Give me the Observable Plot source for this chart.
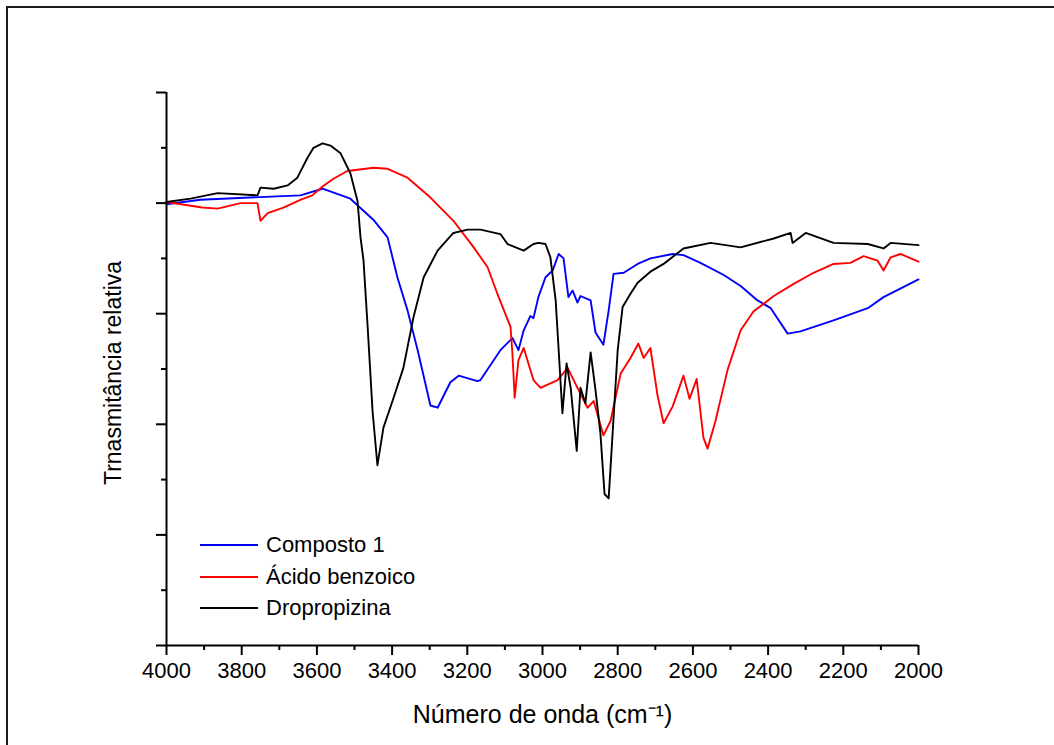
<!DOCTYPE html>
<html><head><meta charset="utf-8">
<script src="https://cdn.jsdelivr.net/npm/d3@7"></script>
<script src="https://cdn.jsdelivr.net/npm/@observablehq/plot@0.6"></script>
<style>
html,body{margin:0;padding:0;background:#fff;overflow:hidden;width:1054px;height:745px;}
#wrap{position:relative;width:1054px;height:745px;font-family:"Liberation Sans",Arial,sans-serif;}
#frame{position:absolute;left:6px;top:6px;width:1100px;height:800px;border-left:2px solid #1a1a1a;border-top:2px solid #1a1a1a;}
#chart{position:absolute;left:0;top:0;}
.lg{position:absolute;left:200px;height:32px;display:flex;align-items:center;font-size:22px;color:#000;}
.lg span.ln{display:inline-block;width:58px;height:0;border-top:2px solid;margin-right:8px;}
</style>
</head><body>
<div id="wrap"><div id="frame"></div><div id="chart"></div></div>
<script>
// Composto 1 (blue)
const wnComposto = [4000,3910,3777,3644,3585,3511,3450,3412,3386,3359,3332,3298,3279,3245,3223,3173,3165,3112,3080,3064,3050,3032,3024,3011,2992,2973,2957,2944,2931,2920,2907,2899,2872,2859,2838,2824,2811,2784,2747,2713,2654,2625,2580,2518,2473,2428,2393,2348,2314,2226,2135,2093,2000];
const tComposto  = [3.99,4.03,4.05,4.07,4.13,4.04,3.85,3.69,3.33,3.03,2.67,2.17,2.15,2.38,2.44,2.39,2.40,2.67,2.78,2.67,2.85,2.98,2.96,3.15,3.33,3.39,3.54,3.50,3.15,3.21,3.10,3.16,3.12,2.83,2.72,3.03,3.36,3.37,3.45,3.50,3.54,3.53,3.46,3.35,3.25,3.12,3.05,2.82,2.84,2.94,3.05,3.15,3.31];
// Ácido benzoico (red)
const wnAcido = [4000,3905,3864,3803,3758,3750,3731,3689,3644,3612,3585,3556,3519,3449,3412,3359,3298,3237,3183,3146,3120,3085,3080,3074,3064,3050,3024,3005,2979,2960,2933,2907,2880,2864,2838,2819,2792,2766,2745,2731,2713,2694,2678,2654,2625,2609,2590,2572,2561,2540,2508,2473,2439,2385,2332,2279,2226,2181,2146,2109,2093,2074,2048,2000];
const tAcido  = [4.01,3.96,3.95,4.00,4.00,3.84,3.91,3.96,4.03,4.07,4.15,4.22,4.29,4.32,4.31,4.23,4.05,3.84,3.60,3.42,3.18,2.88,2.64,2.24,2.58,2.69,2.40,2.33,2.37,2.40,2.51,2.33,2.15,2.21,1.90,2.03,2.46,2.60,2.73,2.60,2.69,2.26,2.01,2.16,2.44,2.23,2.41,1.88,1.78,2.03,2.49,2.85,3.02,3.16,3.27,3.37,3.45,3.46,3.52,3.48,3.39,3.51,3.54,3.47];
// Dropropizina (black)
const wnDrop = [4000,3936,3864,3758,3750,3715,3678,3652,3625,3609,3585,3564,3537,3511,3492,3484,3476,3465,3452,3439,3423,3396,3370,3343,3316,3279,3237,3199,3165,3112,3093,3050,3024,3011,2992,2979,2965,2957,2947,2936,2925,2909,2899,2886,2872,2859,2846,2835,2824,2811,2800,2787,2766,2747,2713,2678,2625,2553,2473,2385,2340,2335,2300,2226,2135,2093,2074,2000];
const tDrop  = [4.01,4.04,4.09,4.07,4.14,4.13,4.16,4.23,4.41,4.50,4.54,4.52,4.45,4.27,4.02,3.69,3.48,2.88,2.12,1.63,1.97,2.24,2.51,2.97,3.33,3.57,3.73,3.76,3.76,3.72,3.63,3.57,3.63,3.64,3.63,3.51,3.12,2.67,2.10,2.55,2.33,1.76,2.33,2.19,2.65,2.31,1.92,1.37,1.33,2.06,2.67,3.06,3.18,3.28,3.38,3.45,3.59,3.64,3.60,3.68,3.73,3.64,3.73,3.64,3.63,3.59,3.64,3.62];

const seriesNames = ["Composto 1", "Ácido benzoico", "Dropropizina"];
const seriesColors = ["#0000ff", "#ff0000", "#000000"];
const xMajorTicks = d3.range(4000, 1999, -200);
const xMinorTicks = d3.range(3900, 2000, -200);
const yMajorTicks = [0,1,2,3,4,5];
const yMinorTicks = [0.5,1.5,2.5,3.5,4.5];
const xLabel = "Número de onda (cm⁻¹)";
const yLabel = "Trnasmitância relativa";

const build = (wn, t, name) => wn.map((w, i) => ({w, t: t[i], name}));
const data = [
  ...build(wnComposto, tComposto, seriesNames[0]),
  ...build(wnAcido, tAcido, seriesNames[1]),
  ...build(wnDrop, tDrop, seriesNames[2])
];

const chart = Plot.plot({
  width: 1054, height: 745,
  marginLeft: 166, marginRight: 136, marginTop: 92, marginBottom: 100,
  style: {background: "transparent", fontFamily: "'Liberation Sans', Arial, sans-serif", fontSize: "22px", color: "#000"},
  x: {domain: [4000, 2000]},
  y: {domain: [0, 5]},
  color: {domain: seriesNames, range: seriesColors},
  marks: [
    Plot.line(data, {x: "w", y: "t", z: "name", stroke: "name", strokeWidth: 1.9}),
    Plot.ruleY([0], {stroke: "#000", strokeWidth: 2}),
    Plot.ruleX([4000], {stroke: "#000", strokeWidth: 2}),
    Plot.axisX({ticks: xMajorTicks, tickSize: 10, tickPadding: 7, tickFormat: d => String(d), strokeWidth: 2, fontSize: 22, label: null}),
    Plot.axisX({ticks: xMinorTicks, tickSize: 5, text: null, strokeWidth: 2, label: null}),
    Plot.axisY({ticks: yMajorTicks, tickSize: 10, text: null, strokeWidth: 2, label: null}),
    Plot.axisY({ticks: yMinorTicks, tickSize: 5, text: null, strokeWidth: 2, label: null}),
    Plot.text([xLabel], {text: d => d, frameAnchor: "bottom", dy: 77, fontSize: 25}),
    Plot.text([yLabel], {text: d => d, frameAnchor: "left", textAnchor: "middle", dx: -53, dy: 4, rotate: -90, fontSize: 23})
  ]
});
document.getElementById("chart").appendChild(chart);

const wrap = document.getElementById("wrap");
const legendY = [529, 561, 592];
seriesNames.forEach((n, i) => {
  const row = document.createElement("div");
  row.className = "lg";
  row.style.top = legendY[i] + "px";
  const ln = document.createElement("span");
  ln.className = "ln";
  ln.style.borderTopColor = seriesColors[i];
  row.appendChild(ln);
  row.appendChild(document.createTextNode(n));
  wrap.appendChild(row);
});
</script>
</body></html>
